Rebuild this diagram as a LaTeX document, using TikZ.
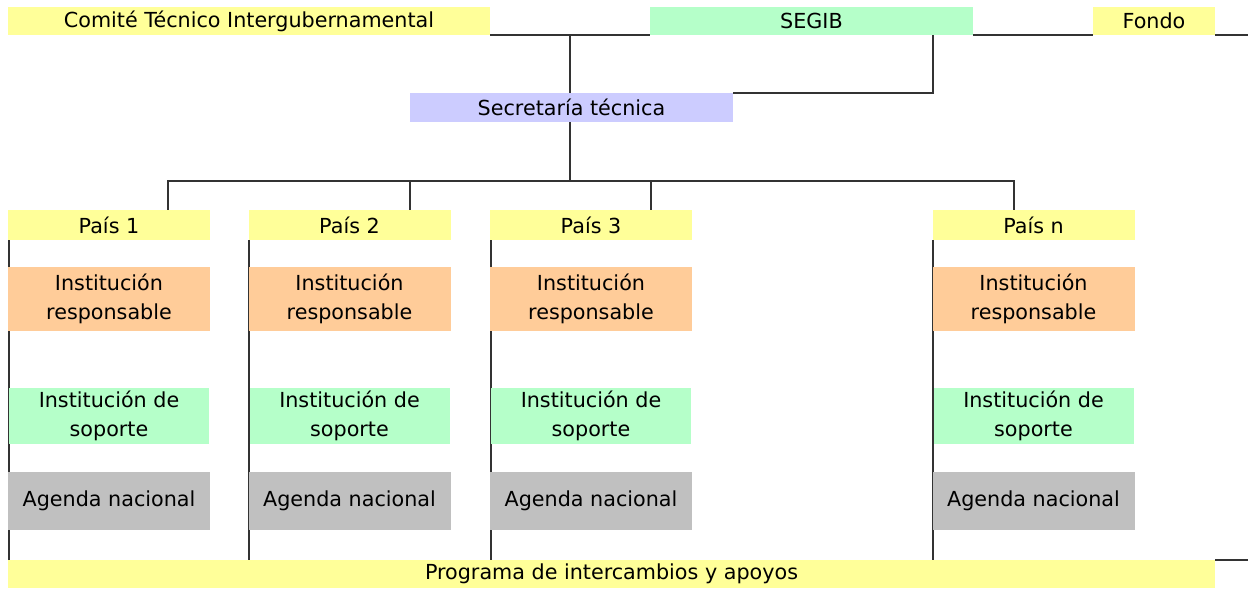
\documentclass[tikz,border=0pt]{standalone}
\usepackage{fontspec}
\setmainfont{DejaVu Sans}
\usetikzlibrary{backgrounds}
\definecolor{cyel}{HTML}{FFFF99}
\definecolor{cgrn}{HTML}{B5FFC9}
\definecolor{corg}{HTML}{FFCC99}
\definecolor{cgry}{HTML}{C0C0C0}
\definecolor{clav}{HTML}{CCCCFF}
\definecolor{cline}{HTML}{333333}
\begin{document}
\begin{tikzpicture}[x=1pt,y=-1pt,
  box/.style={inner sep=0pt, outer sep=0pt, align=center, text=black,
    font=\fontsize{20.7}{29}\selectfont},
  conn/.style={draw=cline, line width=1.8pt}]
\useasboundingbox (0,0) rectangle (1248,590);
% top row
\node[box, fill=cyel, minimum width=482, minimum height=28] (com) at (249,21) {Comité Técnico Intergubernamental};
\node[box, fill=cgrn, minimum width=323, minimum height=28] (segib) at (811.5,21) {SEGIB};
\node[box, fill=cyel, minimum width=122, minimum height=28] (fondo) at (1154,21) {Fondo};
\node[box, fill=clav, minimum width=323, minimum height=29] (sec) at (571.5,107.5) {Secretaría técnica};
% countries
\foreach \n/\cx/\lab in {p1/109/País 1, p2/349.5/País 2, p3/591/País 3, pn/1033.5/País n}{
  \node[box, fill=cyel, minimum width=202, minimum height=30] (\n) at (\cx,225) {\lab};
  \node[box, fill=corg, minimum width=202, minimum height=64] (\n r) at (\cx,299) {Institución\\responsable};
  \node[box, fill=cgrn, minimum width=200, minimum height=56] (\n s) at (\cx,416) {Institución de\\soporte};
  \node[box, fill=cgry, minimum width=202, minimum height=58] (\n a) at (\cx,501) {Agenda nacional};
}
\node[box, fill=cyel, minimum width=1207, minimum height=28] (prog) at (611.5,574) {Programa de intercambios y apoyos};
\coordinate (rt) at (1248,34);
\coordinate (rb) at (1248,560);
\coordinate (bus) at (570,181);
\begin{scope}[on background layer]
  \draw[conn] (com.south east) -- (segib.south west);
  \draw[conn] (segib.south east) -- (fondo.south west);
  \draw[conn] (fondo.south east) -- (fondo.south east -| rt);
  \draw[conn] (sec.north -| bus) -- (bus |- com.south);
  \draw[conn] (segib.south east) ++(-40,0) coordinate (sg) (sg) |- (sec.north east);
  \draw[conn] (sec.south -| bus) -- (bus);
  \draw[conn] (p1.north -| 168,0) |- (bus) -| (pn.north -| 1014,0);
  \draw[conn] (p2.north -| 410,0) -- (bus -| 410,0);
  \draw[conn] (p3.north -| 651,0) -- (bus -| 651,0);
  \foreach \n in {p1,p2,p3,pn}{
    \draw[conn] ([xshift=0.6pt]\n.south west) -- ([xshift=0.6pt]prog.north -| \n.south west);
  }
  \draw[conn] (prog.north east) -- (prog.north east -| rb);
\end{scope}
\end{tikzpicture}
\end{document}
